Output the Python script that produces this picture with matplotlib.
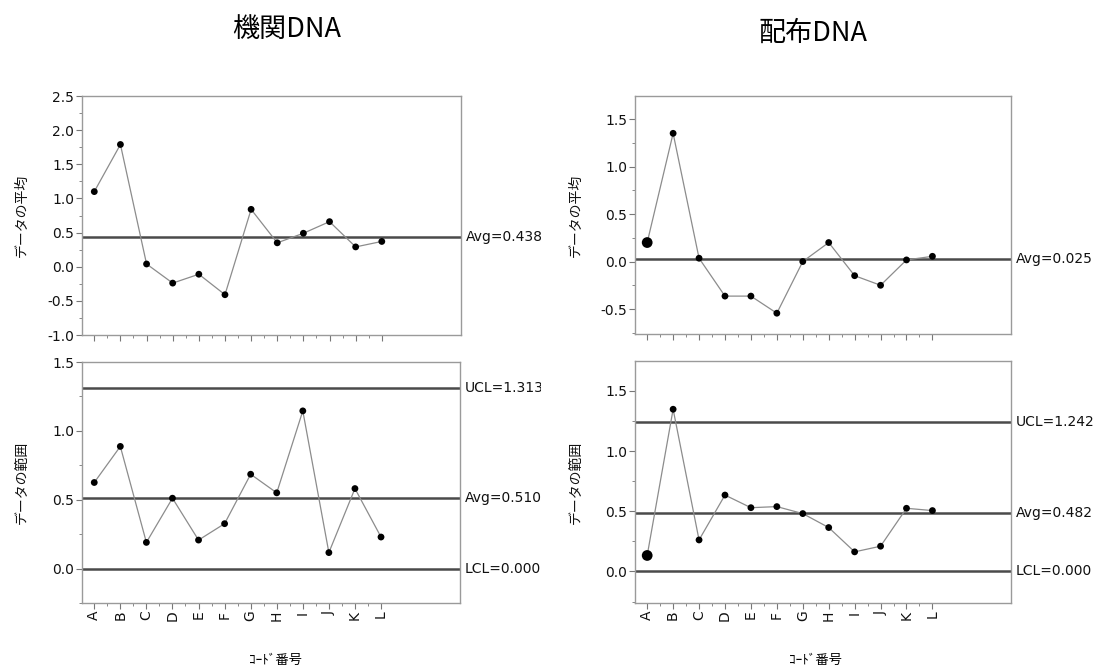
import numpy as np
import matplotlib
matplotlib.use("Agg")
import matplotlib.pyplot as plt
from matplotlib.ticker import MultipleLocator, FixedLocator, FormatStrFormatter
from matplotlib.transforms import Bbox

plt.rcParams['font.family'] = ['DejaVu Sans', 'Noto Sans CJK JP']
plt.rcParams['axes.unicode_minus'] = False

JP = ['Noto Sans CJK JP', 'DejaVu Sans']

# 試料コード
codes = ['A', 'B', 'C', 'D', 'E', 'F', 'G', 'H', 'I', 'J', 'K', 'L']

# 機関DNA
inst_mean = [1.10, 1.79, 0.04, -0.24, -0.11, -0.41, 0.84, 0.35, 0.49, 0.66, 0.29, 0.37]
inst_range = [0.625, 0.887, 0.19, 0.511, 0.207, 0.326, 0.685, 0.55, 1.145, 0.116, 0.581, 0.229]
inst_mean_avg = 0.438
inst_range_avg = 0.510
inst_ucl = 1.313
inst_lcl = 0.000

# 配布DNA
dist_mean = [0.20, 1.35, 0.035, -0.364, -0.364, -0.544, 0.00, 0.20, -0.149, -0.25, 0.017, 0.055]
dist_range = [0.133, 1.348, 0.262, 0.635, 0.530, 0.539, 0.481, 0.365, 0.163, 0.21, 0.525, 0.506]
dist_mean_avg = 0.025
dist_range_avg = 0.482
dist_ucl = 1.242
dist_lcl = 0.000

W, H = 1101, 671
fig = plt.figure(figsize=(W / 100, H / 100), dpi=100)
fig.patch.set_facecolor('white')


def px_axes(l, t, r, b):
    return fig.add_axes([l / W, 1 - b / H, (r - l) / W, (b - t) / H])


def style(ax, ylim, show_x):
    x = np.arange(len(codes))
    ax.set_xlim(-0.47, 14.03)
    ax.set_ylim(*ylim)
    for s in ax.spines.values():
        s.set_color('#9a9a9a')
        s.set_linewidth(1.0)
    ax.xaxis.set_major_locator(FixedLocator(x))
    ax.xaxis.set_minor_locator(FixedLocator(x[:-1] + 0.5))
    ax.yaxis.set_major_locator(MultipleLocator(0.5))
    ax.yaxis.set_minor_locator(MultipleLocator(0.25))
    ax.yaxis.set_major_formatter(FormatStrFormatter('%.1f'))
    ax.tick_params(which='major', direction='out', length=4, width=0.8,
                   color='#777777', labelcolor='#111111', labelsize=10, pad=1.5)
    ax.tick_params(which='minor', direction='out', length=2, width=0.7, color='#888888')
    if show_x:
        ax.set_xticklabels(codes, rotation=90)
    else:
        ax.tick_params(axis='x', labelbottom=False)


def draw(ax, values, big_first):
    x = np.arange(len(values))
    ax.plot(x, values, color='#8c8c8c', lw=0.9, zorder=2)
    sizes = np.full(len(values), 24.0)
    if big_first:
        sizes[0] = 60.0
    ax.scatter(x, values, s=sizes, color='black', zorder=3, linewidths=0)


def limit(ax, value, label, clip_right=None):
    ax.axhline(value, color='#4a4a4a', lw=1.8, zorder=1)
    t = ax.annotate(label, xy=(1, value), xycoords=('axes fraction', 'data'),
                    xytext=(5, 0), textcoords='offset pixels', va='center', ha='left',
                    fontsize=10, color='#111111', annotation_clip=False)
    if clip_right is not None:
        t.set_clip_path(None)
        t.set_clip_box(Bbox.from_extents(0, 0, clip_right, H))
        t.set_clip_on(True)


# 機関DNA
ax1 = px_axes(82, 96, 461, 335)
style(ax1, (-1.0, 2.5), False)
draw(ax1, inst_mean, False)
limit(ax1, inst_mean_avg, 'Avg=%.3f' % inst_mean_avg, 541)

ax2 = px_axes(82, 362, 460, 603)
style(ax2, (-0.25, 1.5), True)
draw(ax2, inst_range, False)
limit(ax2, inst_ucl, 'UCL=%.3f' % inst_ucl, 541)
limit(ax2, inst_range_avg, 'Avg=%.3f' % inst_range_avg, 541)
limit(ax2, inst_lcl, 'LCL=%.3f' % inst_lcl, 541)

# 配布DNA
ax3 = px_axes(635, 96, 1011, 334)
style(ax3, (-0.763, 1.743), False)
draw(ax3, dist_mean, True)
limit(ax3, dist_mean_avg, 'Avg=%.3f' % dist_mean_avg)

ax4 = px_axes(635, 361, 1011, 603)
style(ax4, (-0.262, 1.749), True)
draw(ax4, dist_range, True)
limit(ax4, dist_ucl, 'UCL=%.3f' % dist_ucl)
limit(ax4, dist_range_avg, 'Avg=%.3f' % dist_range_avg)
limit(ax4, dist_lcl, 'LCL=%.3f' % dist_lcl)

# タイトル・軸ラベル
fig.text(287 / W, 1 - 29 / H, '機関DNA', family=JP, fontsize=19.5, ha='center', va='center')
fig.text(813 / W, 1 - 33 / H, '配布DNA', family=JP, fontsize=19.5, ha='center', va='center')

for xp, ax in [(22, ax1), (22, ax2), (576, ax3), (576, ax4)]:
    pos = ax.get_position()
    name = 'データの平均' if ax in (ax1, ax3) else 'データの範囲'
    fig.text(xp / W, pos.y0 + pos.height / 2, name, family=JP, fontsize=10,
             rotation=90, ha='center', va='center', color='#111111')

fig.text(275 / W, 1 - 660 / H, 'ｺｰﾄﾞ番号', family=JP, fontsize=9.5, ha='center', va='center')
fig.text(815 / W, 1 - 660 / H, 'ｺｰﾄﾞ番号', family=JP, fontsize=9.5, ha='center', va='center')

fig.savefig('out.png', dpi=100)
